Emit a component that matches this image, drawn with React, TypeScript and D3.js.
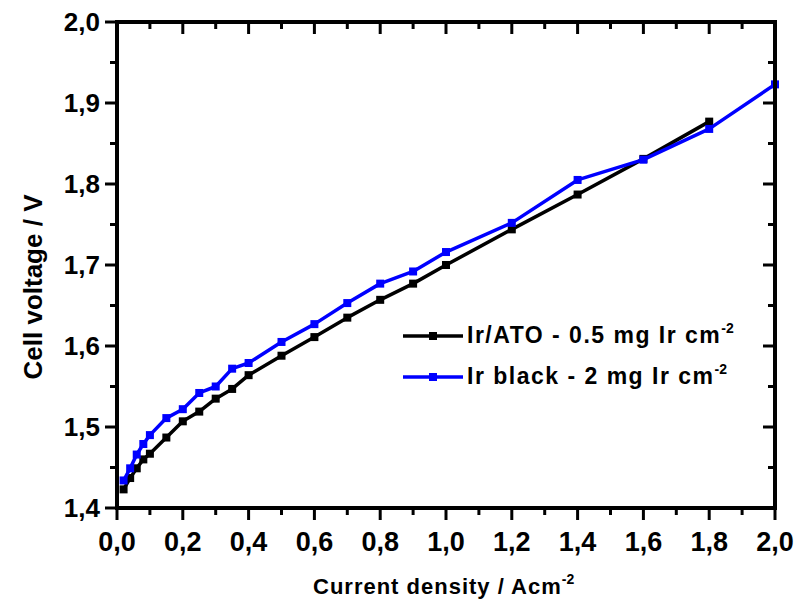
import React from "react";
import * as d3 from "d3";

const currentDensity = [0.02, 0.04, 0.06, 0.08, 0.1, 0.15, 0.2, 0.25, 0.3, 0.35, 0.4, 0.5, 0.6, 0.7, 0.8, 0.9, 1.0, 1.2, 1.4, 1.6, 1.8];
const irAtoVoltage = [1.423, 1.437, 1.449, 1.46, 1.467, 1.487, 1.507, 1.519, 1.535, 1.547, 1.564, 1.588, 1.611, 1.635, 1.657, 1.677, 1.7, 1.744, 1.787, 1.831, 1.877];
const currentDensityBlack = [0.02, 0.04, 0.06, 0.08, 0.1, 0.15, 0.2, 0.25, 0.3, 0.35, 0.4, 0.5, 0.6, 0.7, 0.8, 0.9, 1.0, 1.2, 1.4, 1.6, 1.8, 2.0];
const irBlackVoltage = [1.434, 1.449, 1.466, 1.479, 1.49, 1.511, 1.522, 1.542, 1.55, 1.572, 1.579, 1.605, 1.627, 1.653, 1.677, 1.692, 1.716, 1.752, 1.805, 1.83, 1.868, 1.923];

const xMajorTicks = [0, 0.2, 0.4, 0.6, 0.8, 1.0, 1.2, 1.4, 1.6, 1.8, 2.0];
const xMinorTicks = [0.1, 0.3, 0.5, 0.7, 0.9, 1.1, 1.3, 1.5, 1.7, 1.9];
const yMajorTicks = [1.4, 1.5, 1.6, 1.7, 1.8, 1.9, 2.0];
const yMinorTicks = [1.45, 1.55, 1.65, 1.75, 1.85, 1.95];

const seriesNames = ["Ir/ATO - 0.5 mg Ir cm", "Ir black - 2 mg Ir cm"];
const seriesColors = ["#000000", "#0000ff"];

const FONT = "'Liberation Sans', Arial, sans-serif";

export default function App() {
  const left = 117, right = 775, top = 22, bottom = 508;
  const x = d3.scaleLinear().domain([0, 2]).range([left, right]);
  const y = d3.scaleLinear().domain([1.4, 2.0]).range([bottom, top]);
  const fmt = (v: number) => v.toFixed(1).replace(".", ",");

  const line = d3
    .line<[number, number]>()
    .x((d) => x(d[0]))
    .y((d) => y(d[1]));

  const series = [
    { pts: currentDensity.map((c, i) => [c, irAtoVoltage[i]] as [number, number]), color: seriesColors[0] },
    { pts: currentDensityBlack.map((c, i) => [c, irBlackVoltage[i]] as [number, number]), color: seriesColors[1] },
  ];

  const maj = 12, min = 7;
  const axisW = 4;

  return (
    <svg width={811} height={605} style={{ position: "absolute", left: 0, top: 0, background: "#fff" }}>
      {/* data */}
      {series.map((s, si) => (
        <g key={si}>
          <path d={line(s.pts) || ""} fill="none" stroke={s.color} strokeWidth={3.5} strokeLinejoin="round" />
          {s.pts.map((p, i) => (
            <rect key={i} x={x(p[0]) - 4} y={y(p[1]) - 4} width={8} height={8} fill={s.color} />
          ))}
        </g>
      ))}

      {/* frame */}
      <rect x={left} y={top} width={right - left} height={bottom - top} fill="none" stroke="#000" strokeWidth={axisW} />

      {/* bottom ticks (outward) & top ticks (inward) */}
      {xMajorTicks.map((t) => (
        <g key={"xm" + t}>
          <line x1={x(t)} x2={x(t)} y1={bottom} y2={bottom + maj} stroke="#000" strokeWidth={3} />
          <line x1={x(t)} x2={x(t)} y1={top} y2={top + maj} stroke="#000" strokeWidth={3} />
          <text x={x(t)} y={551} textAnchor="middle" fontFamily={FONT} fontWeight="bold" fontSize={27} fill="#000">
            {fmt(t)}
          </text>
        </g>
      ))}
      {xMinorTicks.map((t) => (
        <g key={"xn" + t}>
          <line x1={x(t)} x2={x(t)} y1={bottom} y2={bottom + min} stroke="#000" strokeWidth={3} />
          <line x1={x(t)} x2={x(t)} y1={top} y2={top + min} stroke="#000" strokeWidth={3} />
        </g>
      ))}

      {/* left ticks (outward) & right ticks (inward) */}
      {yMajorTicks.map((t) => (
        <g key={"ym" + t}>
          <line x1={left - maj} x2={left} y1={y(t)} y2={y(t)} stroke="#000" strokeWidth={3} />
          <line x1={right - maj} x2={right} y1={y(t)} y2={y(t)} stroke="#000" strokeWidth={3} />
          <text x={100} y={y(t) + 9} textAnchor="end" fontFamily={FONT} fontWeight="bold" fontSize={26} fill="#000">
            {fmt(t)}
          </text>
        </g>
      ))}
      {yMinorTicks.map((t) => (
        <g key={"yn" + t}>
          <line x1={left - min} x2={left} y1={y(t)} y2={y(t)} stroke="#000" strokeWidth={3} />
          <line x1={right - min} x2={right} y1={y(t)} y2={y(t)} stroke="#000" strokeWidth={3} />
        </g>
      ))}

      {/* axis titles */}
      <text
        transform="translate(42,287) rotate(-90)"
        textAnchor="middle"
        fontFamily={FONT}
        fontWeight="bold"
        fontSize={26}
        fill="#000"
      >
        Cell voltage / V
      </text>
      <text x={313} y={594} fontFamily={FONT} fontWeight="bold" fontSize={22} letterSpacing={1} fill="#000">
        Current density / Acm
        <tspan dy={-10} fontSize={14} letterSpacing={0}>-2</tspan>
      </text>

      {/* legend */}
      {seriesNames.map((name, i) => {
        const ly = [336, 377][i];
        return (
          <g key={name}>
            <line x1={403} x2={463} y1={ly} y2={ly} stroke={seriesColors[i]} strokeWidth={3.5} />
            <rect x={433 - 4} y={ly - 4} width={8} height={8} fill={seriesColors[i]} />
            <text x={467} y={ly + 7} fontFamily={FONT} fontWeight="bold" fontSize={23} letterSpacing={1.5} fill="#000">
              {name}
              <tspan dy={-10} fontSize={14} letterSpacing={0}>-2</tspan>
            </text>
          </g>
        );
      })}
    </svg>
  );
}
